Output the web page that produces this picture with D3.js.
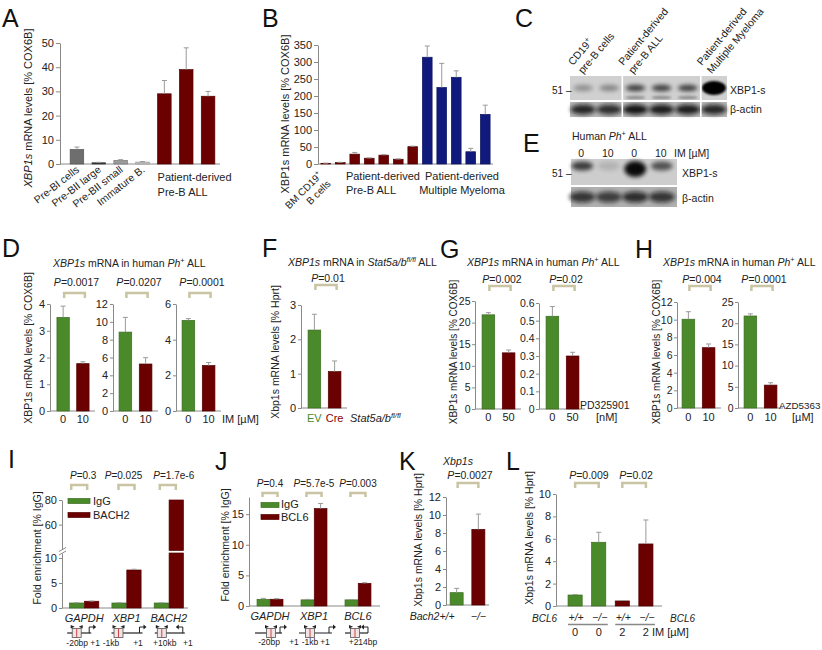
<!DOCTYPE html>
<html><head><meta charset="utf-8">
<script src="https://cdn.jsdelivr.net/npm/d3@7"></script>
<style>body{margin:0;background:#fff} svg{font-family:"Liberation Sans",Arial,sans-serif}</style>
</head><body><svg id="fig" width="822" height="650"></svg>
<script>
// ---------------- DATA ----------------
const aCats = ["Pre-BI cells","Pre-BII large","Pre-BII small","Immature B.","ALL-1","ALL-2","ALL-3"];
const aVals = [6.0, 0.5, 1.5, 0.8, 29, 39, 28];
const aErrs = [7.0, 0.7, 1.8, 1.0, 34.5, 48, 30];
const aTicks = [0,10,20,30,40,50];

const bCats = ["BM-1","BM-2","ALL-1","ALL-2","ALL-3","ALL-4","ALL-5","MM-1","MM-2","MM-3","MM-4","MM-5"];
const bVals = [2, 4, 29, 17, 26, 14, 51, 314, 225, 255, 36, 146];
const bErrs = [2.5, 5, 34, 18, 27.5, 15, 52.5, 347, 296, 274, 46, 173];
const bTicks = [0,50,100,150,200,250,300,350];

const cXbp = [0.3, 0.35, 0.7, 0.7, 0.7, 1.0];
const cActin = [0.85, 0.8, 0.95, 0.9, 0.9, 0.85];
const eLanes = ["0","10","0","10"];
const eXbp = [0.7, 0.12, 0.95, 0.6];
const eActin = [0.75, 0.7, 0.8, 0.75];

const doseCats = ["0","10"];
const d1Vals = [3.5, 1.77], d1Errs = [3.92, 1.84], d1Ticks = [0,1,2,3,4];
const d2Vals = [8.85, 5.27], d2Errs = [10.5, 5.98], d2Ticks = [0,2,4,6,8,10,12];
const d3Vals = [5.08, 2.55], d3Errs = [5.18, 2.72], d3Ticks = [0,2,4,6];
const dP = ["0.0017","0.0207","0.0001"];

const fCats = ["EV","Cre"];
const fVals = [2.27, 1.06], fErrs = [2.73, 1.37], fTicks = [0,1,2,3];

const gCats = ["0","50"];
const g1Vals = [21.8, 13.0], g1Errs = [22.3, 13.66], g1Ticks = [0,5,10,15,20,25];
const g2Vals = [0.525, 0.30], g2Errs = [0.58, 0.321], g2Ticks = [0,0.1,0.2,0.3,0.4,0.5,0.6];
const gP = ["0.002","0.02"];

const hCats = ["0","10"];
const h1Vals = [10.05, 6.83], h1Errs = [10.9, 7.25], h1Ticks = [0,2,4,6,8,10,12];
const h2Vals = [21.7, 5.4], h2Errs = [22.2, 5.96], h2Ticks = [0,5,10,15,20,25];
const hP = ["0.004","0.0001"];

const iGenes = ["GAPDH","XBP1","BACH2"];
const iIgG = [1.0, 1.0, 1.0], iIgGErr = [1.05, 1.05, 1.05];
const iBach2 = [1.35, 7.6, 80], iBach2Err = [1.4, 7.75, 80.3];
const iP = ["0.3","0.025","1.7e-6"];
const iTicksLo = [0,5,10], iTicksHi = [60,80];
const iPos = [["-20bp","+1"],["-1kb","+1"],["+10kb","+1"]];

const jGenes = ["GAPDH","XBP1","BCL6"];
const jIgG = [1.09, 1.0, 1.0], jIgGErr = [1.25, 1.08, 1.05];
const jBcl6 = [1.1, 15.9, 3.7], jBcl6Err = [1.2, 16.75, 3.8];
const jP = ["0.4","5.7e-5","0.003"];
const jTicks = [0,5,10,15];
const jPos = [["-20bp","+1"],["-1kb","+1"],["+214bp"]];

const kCats = ["+/+","\u2212/\u2212"];
const kVals = [1.37, 8.4], kErrs = [1.85, 10.1], kTicks = [0,2,4,6,8,10,12];

const lCats = ["+/+ 0","\u2212/\u2212 0","+/+ 2","\u2212/\u2212 2"];
const lVals = [0.98, 5.69, 0.45, 5.54], lErrs = [1.03, 6.58, 0.49, 7.68], lTicks = [0,2,4,6,8,10];
const lP = ["0.009","0.02"];

// ---------------- HELPERS ----------------
const svg = d3.select('#fig');
const GREEN = '#4b8a2a', RED = '#6b0000', NAVY = '#101a7c', BR = '#c9c4a2', AX = '#8a8a8a';

const defs = svg.append('defs');
defs.append('filter').attr('id','blur').attr('x','-50%').attr('y','-80%').attr('width','200%').attr('height','260%')
  .append('feGaussianBlur').attr('stdDeviation',2.2);
defs.append('filter').attr('id','blur2').attr('x','-50%').attr('y','-80%').attr('width','200%').attr('height','260%')
  .append('feGaussianBlur').attr('stdDeviation',1.3);

function rich(t, parts){
  let up = false;
  parts.forEach(p=>{
    const ts = t.append('tspan').text(p.t);
    if(p.i) ts.attr('font-style','italic');
    if(p.sup){ ts.attr('dy',-4).attr('font-size','0.7em'); up = true; }
    else if(up){ ts.attr('dy',4); up = false; }
  });
}
function txt(x,y,parts,o={}){
  const t = svg.append('text').attr('x',x).attr('y',y)
    .attr('font-size',o.size||10.5).attr('fill',o.fill||'#222')
    .attr('text-anchor',o.anchor||'start');
  if(o.transform) t.attr('transform',o.transform);
  rich(t, typeof parts==='string' ? [{t:parts}] : parts);
  return t;
}
function ylab(x,y,parts,size){
  return txt(0,0,parts,{anchor:'middle',size:size||10.5,transform:`translate(${x},${y}) rotate(-90)`});
}
function letter(x,y,s){ txt(x,y,s,{size:25,fill:'#111'}); }
function styleAxis(g, fs){
  g.selectAll('path,line').attr('stroke',AX).attr('stroke-width',1);
  g.selectAll('text').attr('fill','#222').attr('font-size',fs||11).attr('font-family','"Liberation Sans",Arial,sans-serif');
}
function errBar(cx, yv, ye){
  svg.append('line').attr('x1',cx).attr('x2',cx).attr('y1',yv).attr('y2',ye).attr('stroke','#9a9a9a').attr('stroke-width',1);
  svg.append('line').attr('x1',cx-2.5).attr('x2',cx+2.5).attr('y1',ye).attr('y2',ye).attr('stroke','#9a9a9a').attr('stroke-width',1);
}
function bar(x,w,y0,y1,col){
  svg.append('rect').attr('x',x).attr('width',w).attr('y',y1).attr('height',Math.max(0,y0-y1))
    .attr('fill',col).attr('stroke',d3.color(col).darker(0.7)).attr('stroke-width',0.7);
}
function bars(o){
  const x = d3.scaleBand().domain(o.cats).range(o.xr).paddingInner(o.pi).paddingOuter(o.po);
  const y = d3.scaleLinear().domain(o.yd).range(o.yr);
  const ax = o.axisX ?? o.xr[0];
  const g = svg.append('g').attr('transform',`translate(${ax},0)`)
    .call(d3.axisLeft(y).tickValues(o.ticks).tickSize(o.ts||4).tickPadding(o.tp||2).tickSizeOuter(0).tickFormat(o.fmt||(d=>d)));
  styleAxis(g, o.fs);
  svg.append('line').attr('x1',ax).attr('x2',o.xEnd ?? o.xr[1]).attr('y1',y(0)).attr('y2',y(0)).attr('stroke',AX);
  o.cats.forEach((c,i)=>{
    bar(x(c), x.bandwidth(), y(0), y(o.vals[i]), o.colors[i]);
    if(o.errs) errBar(x(c)+x.bandwidth()/2, y(o.vals[i]), y(o.errs[i]));
  });
  return {x,y};
}
function bracket(xa, xb, y, p, py, pdx, size, h){
  const hh = h||5;
  svg.append('path').attr('d',`M${xa},${y+hh}V${y}H${xb}V${y+hh}`).attr('fill','none')
    .attr('stroke',BR).attr('stroke-width',2.5);
  txt((xa+xb)/2+(pdx??2), py, [{t:'P',i:true},{t:'='+p}], {anchor:'middle',size:size||10.5});
}
const ctr = (s,c) => s(c) + s.bandwidth()/2;

// ---------------- PANEL A ----------------
letter(2,27,'A');
const A = bars({cats:aCats, vals:aVals, errs:aErrs, colors:['#6e6e6e','#3c3c3c','#9b9b9b','#c4c4c4',RED,RED,RED],
  xr:[66,219], pi:.38, po:.19, yd:[0,50], yr:[164,43], ticks:aTicks, axisX:60, xEnd:220});
ylab(32,108,[{t:'XBP1s',i:true},{t:' mRNA levels [% COX6B]'}],11);
aCats.slice(0,4).forEach(c=>{
  txt(0,0,c,{anchor:'end',size:10.5,transform:`translate(${ctr(A.x,c)+3},${171}) rotate(-38)`});
});
txt(A.x(aCats[4]),181,'Patient-derived',{size:11});
txt(A.x(aCats[4]),196,'Pre-B ALL',{size:11});

// ---------------- PANEL B ----------------
letter(262,27,'B');
const B = bars({cats:bCats, vals:bVals, errs:bErrs, colors:bCats.map(c=>c.startsWith('MM')?NAVY:RED),
  xr:[318,493], pi:.33, po:.2, yd:[0,350], yr:[164,45], ticks:bTicks, axisX:318, xEnd:493});
ylab(289,114,'XBP1s mRNA levels [% COX6B]',11);
{
  const g = `translate(${ctr(B.x,bCats[0])-3},176) rotate(-45)`;
  const t = svg.append('text').attr('transform',g).attr('font-size',10).attr('fill','#222').attr('text-anchor','end');
  rich(t,[{t:'BM CD19'},{t:'+',sup:true}]);
  svg.append('text').attr('transform',g).attr('y',12).attr('font-size',10).attr('fill','#222').attr('text-anchor','end').text('B cells');
}
txt(B.x(bCats[2])-4,180,'Patient-derived',{size:11});
txt(B.x(bCats[2])-4,194,'Pre-B ALL',{size:11});
txt(462,180,'Patient-derived',{size:11,anchor:'middle'});
txt(462,194,'Multiple Myeloma',{size:11,anchor:'middle'});

// ---------------- PANEL C (blot) ----------------
letter(515,27,'C');
{
  const lx = d3.scaleBand().domain(d3.range(cXbp.length)).range([570,727]);
  svg.append('rect').attr('x',570).attr('y',76).attr('width',157).attr('height',24).attr('fill','#d0d0d0');
  svg.append('rect').attr('x',570).attr('y',102).attr('width',157).attr('height',15).attr('fill','#b8b8b8');
  cXbp.forEach((v,i)=>{
    const cx = ctr(lx,i);
    const big = v>=1;
    svg.append('ellipse').attr('cx',cx).attr('cy',88).attr('rx',big?12:10).attr('ry',big?7:3.2)
      .attr('fill','#000').attr('opacity',v).attr('filter', big?'url(#blur2)':'url(#blur)');
    if(i>=2 && i<=4) svg.append('ellipse').attr('cx',cx).attr('cy',97.5).attr('rx',10).attr('ry',1.8)
      .attr('fill','#000').attr('opacity',0.3).attr('filter','url(#blur2)');
  });
  cActin.forEach((v,i)=>{
    svg.append('ellipse').attr('cx',ctr(lx,i)).attr('cy',109.5).attr('rx',12.5).attr('ry',5)
      .attr('fill','#111').attr('opacity',v).attr('filter','url(#blur)');
  });
  svg.append('rect').attr('x',570).attr('y',100).attr('width',157).attr('height',2).attr('fill','#fff');
  [2,5].forEach(i=>{
    svg.append('line').attr('x1',lx(i)).attr('x2',lx(i)).attr('y1',76).attr('y2',117).attr('stroke','#fff').attr('stroke-width',1.6);
  });
  const lab = (x0, l1, l2) => {
    const tr = `translate(${x0},66) rotate(-50)`;
    const t1 = svg.append('text').attr('transform',tr).attr('font-size',10.5).attr('fill','#222');
    rich(t1, l1);
    svg.append('text').attr('transform',tr).attr('y',13).attr('font-size',10.5).attr('fill','#222').text(l2);
  };
  lab(lx(0)+3, [{t:'CD19'},{t:'+',sup:true}], 'pre-B cells');
  lab(lx(2)+1, [{t:'Patient-derived'}], 'pre-B ALL');
  lab(lx(5)+1, [{t:'Patient-derived'}], 'Multiple Myeloma');
  txt(552,94,'51 \u2013',{size:10});
  txt(730,94,'XBP1-s',{size:10.5});
  txt(730,113,'\u03b2-actin',{size:10.5});
}

// ---------------- PANEL E (blot) ----------------
letter(523,152,'E');
{
  const lx = d3.scaleBand().domain(d3.range(eLanes.length)).range([571,677]);
  txt(572,140,[{t:'Human '},{t:'Ph',i:true},{t:'+',sup:true},{t:' ALL'}],{size:10.5});
  eLanes.forEach((l,i)=> txt(ctr(lx,i)-3,157,l,{size:10.5,anchor:'middle'}));
  txt(674,157,'IM [\u00b5M]',{size:10.5});
  svg.append('rect').attr('x',571).attr('y',159).attr('width',106).attr('height',26).attr('fill','#cdcdcd');
  svg.append('rect').attr('x',571).attr('y',187).attr('width',106).attr('height',20).attr('fill','#b0b0b0');
  eXbp.forEach((v,i)=>{
    const strong = v>0.9;
    svg.append('ellipse').attr('cx',ctr(lx,i)-2).attr('cy',strong?169:166).attr('rx',11).attr('ry',strong?8:4.5)
      .attr('fill','#000').attr('opacity',v).attr('filter','url(#blur)');
  });
  eActin.forEach((v,i)=>{
    svg.append('ellipse').attr('cx',ctr(lx,i)-2).attr('cy',197).attr('rx',13).attr('ry',5.5)
      .attr('fill','#111').attr('opacity',v).attr('filter','url(#blur)');
  });
  txt(552,177,'51 \u2013',{size:10});
  txt(682,177,'XBP1-s',{size:10.5});
  txt(682,202,'\u03b2-actin',{size:10.5});
}

// ---------------- PANEL D ----------------
letter(2,257,'D');
txt(53,267,[{t:'XBP1s',i:true},{t:' mRNA in human '},{t:'Ph',i:true},{t:'+',sup:true},{t:' ALL'}]);
ylab(32,348,'XBP1s mRNA levels [% COX6B]',10.5);
{
  const subs = [
    {vals:d1Vals, errs:d1Errs, ticks:d1Ticks, xr:[51,95], ax:50},
    {vals:d2Vals, errs:d2Errs, ticks:d2Ticks, xr:[113,158], ax:113},
    {vals:d3Vals, errs:d3Errs, ticks:d3Ticks, xr:[176,221], ax:176}
  ];
  subs.forEach((s,k)=>{
    const r = bars({cats:doseCats, vals:s.vals, errs:s.errs, colors:[GREEN,RED], xr:s.xr, pi:.375, po:.3,
      yd:[0, d3.max(s.ticks)], yr:[411,304], ticks:s.ticks, axisX:s.ax, ts:3});
    doseCats.forEach(c=> txt(ctr(r.x,c),423,c,{anchor:'middle',size:11}));
    bracket(ctr(r.x,doseCats[0])+1, ctr(r.x,doseCats[1])+2, 293, dP[k], 286);
  });
  txt(222,423,'IM [\u00b5M]',{size:11});
}

// ---------------- PANEL F ----------------
letter(262,257,'F');
txt(288,266,[{t:'XBP1s',i:true},{t:' mRNA in '},{t:'Stat5a/b',i:true},{t:'fl/fl',sup:true,i:true},{t:' ALL'}]);
ylab(279,352,'Xbp1s  mRNA levels [% Hprt]',10.5);
{
  const r = bars({cats:fCats, vals:fVals, errs:fErrs, colors:[GREEN,RED], xr:[302,347], pi:.375, po:.3,
    yd:[0,3], yr:[408,305], ticks:fTicks, axisX:301, ts:3});
  txt(ctr(r.x,'EV'),422,'EV',{anchor:'middle',size:11,fill:GREEN});
  txt(ctr(r.x,'Cre'),422,'Cre',{anchor:'middle',size:11,fill:'#8a0000'});
  txt(350,422,[{t:'Stat5a/b',i:true},{t:'fl/fl',sup:true,i:true}],{size:11});
  bracket(ctr(r.x,'EV')+1, ctr(r.x,'Cre')+2, 285, '0.01', 282);
}

// ---------------- PANEL G ----------------
letter(440,258,'G');
txt(467,266,[{t:'XBP1s',i:true},{t:' mRNA in human '},{t:'Ph',i:true},{t:'+',sup:true},{t:' ALL'}]);
ylab(457,352,'XBP1s mRNA levels [% COX6B]',10);
{
  const r1 = bars({cats:gCats, vals:g1Vals, errs:g1Errs, colors:[GREEN,RED], xr:[476,521], pi:.375, po:.3,
    yd:[0,25], yr:[409,301], ticks:g1Ticks, axisX:475, ts:3, tp:1.5, fs:10.5});
  const r2 = bars({cats:gCats, vals:g2Vals, errs:g2Errs, colors:[GREEN,RED], xr:[540,585], pi:.375, po:.3,
    yd:[0,0.6], yr:[409,303], ticks:g2Ticks, axisX:539, ts:3, tp:1.5, fs:10.5, fmt:d=>d===0?'0':d.toFixed(1)});
  [r1,r2].forEach((r,k)=>{
    gCats.forEach(c=> txt(ctr(r.x,c),421,c,{anchor:'middle',size:11}));
    bracket(ctr(r.x,gCats[0])+1, ctr(r.x,gCats[1])+2, 286, gP[k], 283);
  });
  txt(580,409,'PD325901',{size:10.5});
  txt(596,421,'[nM]',{size:11});
}

// ---------------- PANEL H ----------------
letter(635,258,'H');
txt(663,266,[{t:'XBP1s',i:true},{t:' mRNA in human '},{t:'Ph',i:true},{t:'+',sup:true},{t:' ALL'}]);
ylab(660,352,'XBP1s mRNA levels [% COX6B]',10);
{
  const r1 = bars({cats:hCats, vals:h1Vals, errs:h1Errs, colors:[GREEN,RED], xr:[676,721], pi:.375, po:.3,
    yd:[0,12], yr:[408,302], ticks:h1Ticks, axisX:677, ts:3, tp:1.5, fs:10.5});
  const r2 = bars({cats:hCats, vals:h2Vals, errs:h2Errs, colors:[GREEN,RED], xr:[738,783], pi:.375, po:.3,
    yd:[0,25], yr:[408,302], ticks:h2Ticks, axisX:738, ts:3, tp:1.5, fs:10.5});
  [r1,r2].forEach((r,k)=>{
    hCats.forEach(c=> txt(ctr(r.x,c),421,c,{anchor:'middle',size:11}));
    bracket(ctr(r.x,hCats[0])+1, ctr(r.x,hCats[1])+2, 286, hP[k], 283);
  });
  txt(779,409,'AZD5363',{size:9.8});
  txt(792,421,'[\u00b5M]',{size:11});
}

// ---------------- gene diagram helper ----------------
function gene(cx, yl, s, labs, yLab){
  svg.append('line').attr('x1',cx+s.l).attr('x2',cx+s.r).attr('y1',yl).attr('y2',yl).attr('stroke','#222').attr('stroke-width',1.2);
  const bx = cx+s.box;
  svg.append('rect').attr('x',bx-4.5).attr('y',yl-4.5).attr('width',9).attr('height',9).attr('fill','#f2e4e4').attr('stroke','#555').attr('stroke-width',.8);
  svg.append('line').attr('x1',bx).attr('x2',bx).attr('y1',yl-4.5).attr('y2',yl+4.5).attr('stroke','#c44').attr('stroke-width',1);
  svg.append('path').attr('d',`M${bx-6},${yl-8}l4,1.8l-4,1.8z`).attr('fill','#222');
  svg.append('path').attr('d',`M${bx+6},${yl-8}l-4,1.8l4,1.8z`).attr('fill','#222');
  const tx = cx+s.tss, d = s.dir;
  svg.append('path').attr('d',`M${tx},${yl}V${yl-6}H${tx+d*5}`).attr('fill','none').attr('stroke','#222').attr('stroke-width',1);
  svg.append('path').attr('d',`M${tx+d*7},${yl-6}l${-d*3},-2.5v5z`).attr('fill','#222');
  labs.forEach((t,k)=> txt(cx+s.lo[k],yLab,t,{anchor:'middle',size:8.5}));
}

// ---------------- PANEL I ----------------
letter(8,468,'I');
ylab(41,548,'Fold enrichment [% IgG]',10.5);
{
  const gx = d3.scaleBand().domain(iGenes).range([62,191]).paddingInner(.31).paddingOuter(.18);
  const sx = d3.scaleBand().domain(['IgG','BACH2']).range([0,gx.bandwidth()]).paddingInner(.04);
  const yLo = d3.scaleLinear().domain([0,11]).range([608,553]);
  const yHi = d3.scaleLinear().domain([39,80]).range([550.5,500]);
  const a1 = svg.append('g').attr('transform','translate(62,0)').call(d3.axisLeft(yLo).tickValues(iTicksLo).tickSize(3).tickPadding(2).tickSizeOuter(0));
  const a2 = svg.append('g').attr('transform','translate(62,0)').call(d3.axisLeft(yHi).tickValues(iTicksHi).tickSize(3).tickPadding(2).tickSizeOuter(0));
  styleAxis(a1); styleAxis(a2);
  svg.append('rect').attr('x',58).attr('y',550).attr('width',8).attr('height',3.5).attr('fill','#fff');
  [549.5,553].forEach(yy=> svg.append('line').attr('x1',59).attr('x2',66).attr('y1',yy+2).attr('y2',yy-2).attr('stroke',AX));
  svg.append('line').attr('x1',62).attr('x2',188).attr('y1',608).attr('y2',608).attr('stroke',AX);
  const series = [{k:'IgG',v:iIgG,e:iIgGErr,c:GREEN},{k:'BACH2',v:iBach2,e:iBach2Err,c:RED}];
  const bOff = [-5,0,-1], pOff = [-1,-3,5];
  iGenes.forEach((gname,i)=>{
    series.forEach(s=>{
      const x = gx(gname)+sx(s.k), w = sx.bandwidth(), v = s.v[i];
      if(v<=11){ bar(x,w,yLo(0),yLo(v),s.c); errBar(x+w/2,yLo(v),yLo(s.e[i])); }
      else { bar(x,w,yLo(0),yLo(11),s.c); bar(x,w,yHi(39),yHi(v),s.c); }
    });
    txt(ctr(gx,gname),622,[{t:gname,i:true}],{anchor:'middle',size:11});
    const c = ctr(gx,gname)+bOff[i];
    bracket(c-8, c+8, 485, iP[i], 479, pOff[i]-bOff[i], 10);
  });
  bar(68,22,503.5,498.5,GREEN); txt(93,505,'IgG',{size:11});
  bar(68,22,517.5,512.5,RED); txt(93,519,'BACH2',{size:11});
  const specs = [
    {box:-7.5,l:-17,r:7,tss:5,dir:1,lo:[-7,11]},
    {box:-8,l:-15,r:16,tss:13,dir:1,lo:[-15.5,11.5]},
    {box:-7,l:-14,r:16,tss:14,dir:-1,lo:[-4,19]}];
  iGenes.forEach((gname,i)=> gene(ctr(gx,gname),633,specs[i],iPos[i],646));
}

// ---------------- PANEL J ----------------
letter(215,470,'J');
ylab(229,545,'Fold enrichment [% IgG]',10.5);
{
  const gx = d3.scaleBand().domain(jGenes).range([250,378]).paddingInner(.41).paddingOuter(.16);
  const sx = d3.scaleBand().domain(['IgG','BCL6']).range([0,gx.bandwidth()]).paddingInner(.04);
  const y = d3.scaleLinear().domain([0,17.8]).range([606,497]);
  const a = svg.append('g').attr('transform','translate(249,0)').call(d3.axisLeft(y).tickValues(jTicks).tickSize(3).tickPadding(2).tickSizeOuter(0));
  styleAxis(a);
  svg.append('line').attr('x1',249).attr('x2',380).attr('y1',606).attr('y2',606).attr('stroke',AX);
  const series = [{k:'IgG',v:jIgG,e:jIgGErr,c:GREEN},{k:'BCL6',v:jBcl6,e:jBcl6Err,c:RED}];
  jGenes.forEach((gname,i)=>{
    series.forEach(s=>{
      const x = gx(gname)+sx(s.k), w = sx.bandwidth();
      bar(x,w,y(0),y(s.v[i]),s.c); errBar(x+w/2,y(s.v[i]),y(s.e[i]));
    });
    txt(ctr(gx,gname),620,[{t:gname,i:true}],{anchor:'middle',size:11});
    const c = ctr(gx,gname);
    bracket(c-7.5, c+7.5, 493, jP[i], 487, 0, 10, 4);
  });
  bar(261,18,507.5,502.5,GREEN); txt(281,508,'IgG',{size:11});
  bar(261,18,519.5,514.5,RED); txt(281,521,'BCL6',{size:11});
  const specs = [
    {box:1,l:-15,r:12,tss:10,dir:1,lo:[-1,24]},
    {box:-4,l:-15,r:18,tss:15,dir:1,lo:[-4,11]},
    {box:-3,l:-13,r:10,tss:10,dir:-1,lo:[5]}];
  jGenes.forEach((gname,i)=> gene(ctr(gx,gname),633,specs[i],jPos[i],645));
}

// ---------------- PANEL K ----------------
letter(399,470,'K');
ylab(422,540,'Xbp1s  mRNA levels [% Hprt]',10.5);
{
  const r = bars({cats:kCats, vals:kVals, errs:kErrs, colors:[GREEN,RED], xr:[446,489], pi:.4, po:.19,
    yd:[0,12], yr:[605,497], ticks:kTicks, axisX:446, ts:3});
  txt(458,465,[{t:'Xbp1s',i:true}],{anchor:'middle',size:10.5});
  bracket(ctr(r.x,kCats[0])+1, ctr(r.x,kCats[1]), 483, '0.0027', 479);
  txt(ctr(r.x,kCats[0])-2,620,[{t:'Bach2',i:true},{t:'+/+',i:true}],{anchor:'end',size:10.5});
  txt(ctr(r.x,kCats[1]),620,[{t:kCats[1],i:true}],{anchor:'middle',size:10.5});
}

// ---------------- PANEL L ----------------
letter(506,470,'L');
ylab(533,538,'Xbp1s  mRNA levels [% Hprt]',10.5);
{
  const r = bars({cats:lCats, vals:lVals, errs:lErrs, colors:[GREEN,GREEN,RED,RED], xr:[556,665], pi:.4, po:.51,
    yd:[0,10], yr:[606,494], ticks:lTicks, axisX:556, xEnd:662, ts:3});
  bracket(ctr(r.x,lCats[0]), ctr(r.x,lCats[1]), 483, lP[0], 479);
  bracket(ctr(r.x,lCats[2]), ctr(r.x,lCats[3]), 483, lP[1], 479);
  txt(532,622,[{t:'BCL6',i:true}],{size:10});
  txt(670,622,[{t:'BCL6',i:true}],{size:10});
  lCats.forEach(c=>{
    const [gt, dose] = c.split(' ');
    txt(ctr(r.x,c)+1,621,[{t:gt,i:true}],{anchor:'middle',size:10.5});
    txt(ctr(r.x,c),636,dose,{anchor:'middle',size:11});
  });
  [[0,1],[2,3]].forEach(([a,b])=>{
    svg.append('line').attr('x1',r.x(lCats[a])).attr('x2',r.x(lCats[b])+r.x.bandwidth()+2)
      .attr('y1',624.5).attr('y2',624.5).attr('stroke','#888').attr('stroke-width',1.5);
  });
  txt(ctr(r.x,lCats[3])+6,636,'IM [\u00b5M]',{size:11});
}
</script></body></html>
